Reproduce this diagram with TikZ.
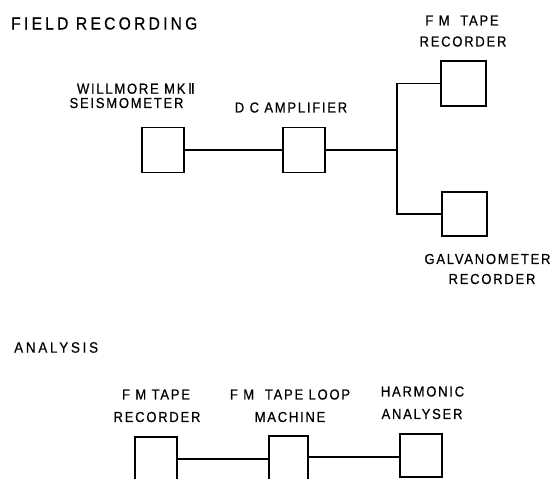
\documentclass[tikz,border=0pt]{standalone}
\usepackage{fontspec}
\setmainfont{Liberation Sans}[LetterSpace=12,FakeStretch=0.9,FakeBold=0.6]
\newfontfamily\titlefont{Liberation Sans}[LetterSpace=18,FakeStretch=0.9,FakeBold=0.3]
\newfontfamily\romfont{DejaVu Sans}[FakeBold=0.6]
\begin{document}
\begin{tikzpicture}[x=1pt,y=-1pt,
  blk/.style={draw,line width=1.4pt,minimum width=42pt,minimum height=45pt,inner sep=0pt},
  lbl/.style={inner sep=0pt,font=\fontsize{14.5}{16}\selectfont},
  ttl/.style={inner sep=0pt,anchor=west},
  wire/.style={line width=1.1pt}]
\useasboundingbox (0,0) rectangle (557,479);
\clip (0,0) rectangle (557,479);
% titles
\node[ttl,font=\titlefont\fontsize{17.5}{20}\selectfont] (t1) at (11,23.5) {FIELD RECORDING};
\node[ttl,font=\titlefont\fontsize{15}{18}\selectfont] (t2) at (14,347.5) {ANALYSIS};
% field recording labels
\node[lbl] (seisA) at (136,88.5) {WILLMORE MK\,{\romfont Ⅱ}};
\node[lbl] (seisB) at (126.5,103) {SEISMOMETER};
\node[lbl] (dcA) at (291,107.5) {D C AMPLIFIER};
\node[lbl] (fmA) at (462,20.5) {F M\ \ TAPE};
\node[lbl] (fmB) at (463,41.5) {RECORDER};
\node[lbl] (gvA) at (487.5,259) {GALVANOMETER};
\node[lbl] (gvB) at (492,279) {RECORDER};
% field recording blocks
\node[blk] (seis) at (163,150) {};
\node[blk] (dc) at (304,150) {};
\node[blk,minimum width=45pt] (fm) at (463.5,83.5) {};
\node[blk,minimum width=45pt,minimum height=44pt] (gv) at (464.5,214) {};
\coordinate (j) at (397,150);
\draw[wire] (seis.east) -- (dc.west);
\draw[wire] (dc.east) -- (j);
\draw[wire] (fm.west) -| (j);
\draw[wire] (gv.west) -| (j);
% analysis labels
\node[lbl] (r1A) at (156,394.5) {F M TAPE};
\node[lbl] (r1B) at (157,417) {RECORDER};
\node[lbl] (r2A) at (290,394.5) {F M\ \ TAPE LOOP};
\node[lbl] (r2B) at (290,417) {MACHINE};
\node[lbl] (r3A) at (422.5,391.5) {HARMONIC};
\node[lbl] (r3B) at (422,414) {ANALYSER};
% analysis blocks
\node[blk] (a1) at (156,459.5) {};
\node[blk,minimum width=39pt] (a2) at (288.5,458.5) {};
\node[blk,minimum height=43pt] (a3) at (421,455.5) {};
\draw[wire] (a1.east |- 0,459) -- (a2.west |- 0,459);
\draw[wire] (a2.east |- 0,457) -- (a3.west |- 0,457);
\end{tikzpicture}
\end{document}
